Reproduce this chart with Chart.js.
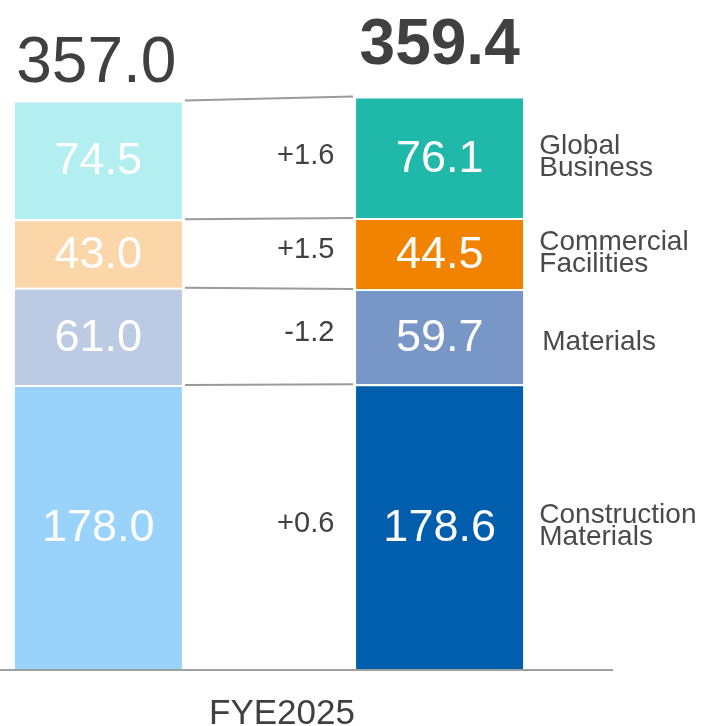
<!DOCTYPE html>
<html>
<head>
<meta charset="utf-8">
<script src="https://cdn.jsdelivr.net/npm/chart.js@4/dist/chart.umd.min.js"></script>
<style>
html,body{margin:0;padding:0;background:#fff;}
#wrap{width:707px;height:726px;}
</style>
</head>
<body>
<div id="wrap"><canvas id="c" width="707" height="726"></canvas></div>
<script>
const categories = ["FYE2024", "", "FYE2025"];
const segments = ["Construction Materials", "Materials", "Commercial Facilities", "Global Business"];
const segmentLines = [["Construction", "Materials"], ["Materials"], ["Commercial", "Facilities"], ["Global", "Business"]];
const prevValues = [178.0, 61.0, 43.0, 74.5];
const currValues = [178.6, 59.7, 44.5, 76.1];
const deltaLabels = ["+0.6", "-1.2", "+1.5", "+1.6"];
const totalLabels = ["357.0", "359.4"];
const periodLabel = "FYE2025";
const prevColors = ["#99d2fa", "#bccbe4", "#fbd6a8", "#b3eef0"];
const currColors = ["#005eac", "#7897c6", "#f18300", "#20b8a9"];

const FONT = "'Liberation Sans', Arial, Helvetica, sans-serif";

const datasets = segments.map((name, i) => ({
  label: name,
  data: [prevValues[i], null, currValues[i]],
  backgroundColor: [prevColors[i], "rgba(0,0,0,0)", currColors[i]],
  borderColor: "#ffffff",
  borderWidth: {top: 2, left: 0, right: 0, bottom: 0},
  borderSkipped: false,
  barPercentage: 0.98,
  categoryPercentage: 1.0
}));

const overlay = {
  id: "overlay",
  afterDatasetsDraw(chart) {
    const ctx = chart.ctx;
    const xs = chart.scales.x;
    const ys = chart.scales.y;
    const n = segments.length;
    const leftBars = [], rightBars = [];
    for (let i = 0; i < n; i++) {
      const meta = chart.getDatasetMeta(i);
      leftBars.push(meta.data[0]);
      rightBars.push(meta.data[2]);
    }
    ctx.save();
    // connector lines
    ctx.strokeStyle = "#9a9a9a";
    ctx.lineWidth = 2;
    for (let i = 0; i < n; i++) {
      const l = leftBars[i], r = rightBars[i];
      const lx = l.x + l.width / 2 + 3;
      const rx = r.x - r.width / 2 - 3;
      ctx.beginPath();
      ctx.moveTo(lx, l.y);
      ctx.lineTo(rx, r.y);
      ctx.stroke();
    }
    // in-bar values
    ctx.fillStyle = "#ffffff";
    ctx.font = "45px " + FONT;
    ctx.textAlign = "center";
    ctx.textBaseline = "middle";
    for (let i = 0; i < n; i++) {
      const l = leftBars[i], r = rightBars[i];
      ctx.fillText(prevValues[i].toFixed(1), l.x, (l.y + l.base) / 2 + 2);
      ctx.fillText(currValues[i].toFixed(1), r.x, (r.y + r.base) / 2 + 2);
    }
    // deltas
    ctx.fillStyle = "#404040";
    ctx.font = "29px " + FONT;
    ctx.textAlign = "right";
    const midRight = xs.getPixelForValue(1) + (xs.getPixelForValue(2) - xs.getPixelForValue(1)) / 2 - 20;
    for (let i = 0; i < n; i++) {
      const l = leftBars[i], r = rightBars[i];
      const y = ((l.y + l.base) / 2 + (r.y + r.base) / 2) / 2 - 3;
      ctx.fillText(deltaLabels[i], midRight, y);
    }
    // segment names
    ctx.fillStyle = "#4a4a4a";
    ctx.font = "28px " + FONT;
    ctx.textAlign = "left";
    for (let i = 0; i < n; i++) {
      const r = rightBars[i];
      const lines = segmentLines[i];
      const cy = (r.y + r.base) / 2 + (lines.length === 1 ? 6 : 0);
      const x = r.x + r.width / 2 + 16 + (lines.length === 1 ? 3 : 0);
      const lh = 22;
      lines.forEach((t, k) => {
        ctx.fillText(t, x, cy + (k - (lines.length - 1) / 2) * lh);
      });
    }
    // totals
    ctx.fillStyle = "#404040";
    ctx.textAlign = "center";
    ctx.textBaseline = "alphabetic";
    ctx.font = "64px " + FONT;
    ctx.fillText(totalLabels[0], leftBars[n - 1].x - 2, leftBars[n - 1].y - 18);
    ctx.font = "bold 64px " + FONT;
    ctx.fillText(totalLabels[1], rightBars[n - 1].x, rightBars[n - 1].y - 33);
    // axis line
    const base = ys.getPixelForValue(0);
    ctx.strokeStyle = "#a0a0a0";
    ctx.lineWidth = 2;
    ctx.beginPath();
    ctx.moveTo(0, base + 1);
    ctx.lineTo(chart.chartArea.right + 88, base + 1);
    ctx.stroke();
    // period label
    ctx.fillStyle = "#404040";
    ctx.font = "35px " + FONT;
    ctx.textAlign = "center";
    ctx.fillText(periodLabel, xs.getPixelForValue(1) + 13, base + 55);
    ctx.restore();
  }
};

new Chart(document.getElementById("c"), {
  type: "bar",
  data: {labels: categories, datasets: datasets},
  options: {
    responsive: false,
    devicePixelRatio: 1,
    animation: false,
    layout: {padding: {left: 13, right: 182, top: 31, bottom: 57}},
    plugins: {legend: {display: false}, tooltip: {enabled: false}},
    scales: {
      x: {stacked: true, display: false, offset: true, grid: {display: false}},
      y: {stacked: true, display: false, min: 0, max: 400}
    }
  },
  plugins: [overlay]
});
</script>
</body>
</html>
